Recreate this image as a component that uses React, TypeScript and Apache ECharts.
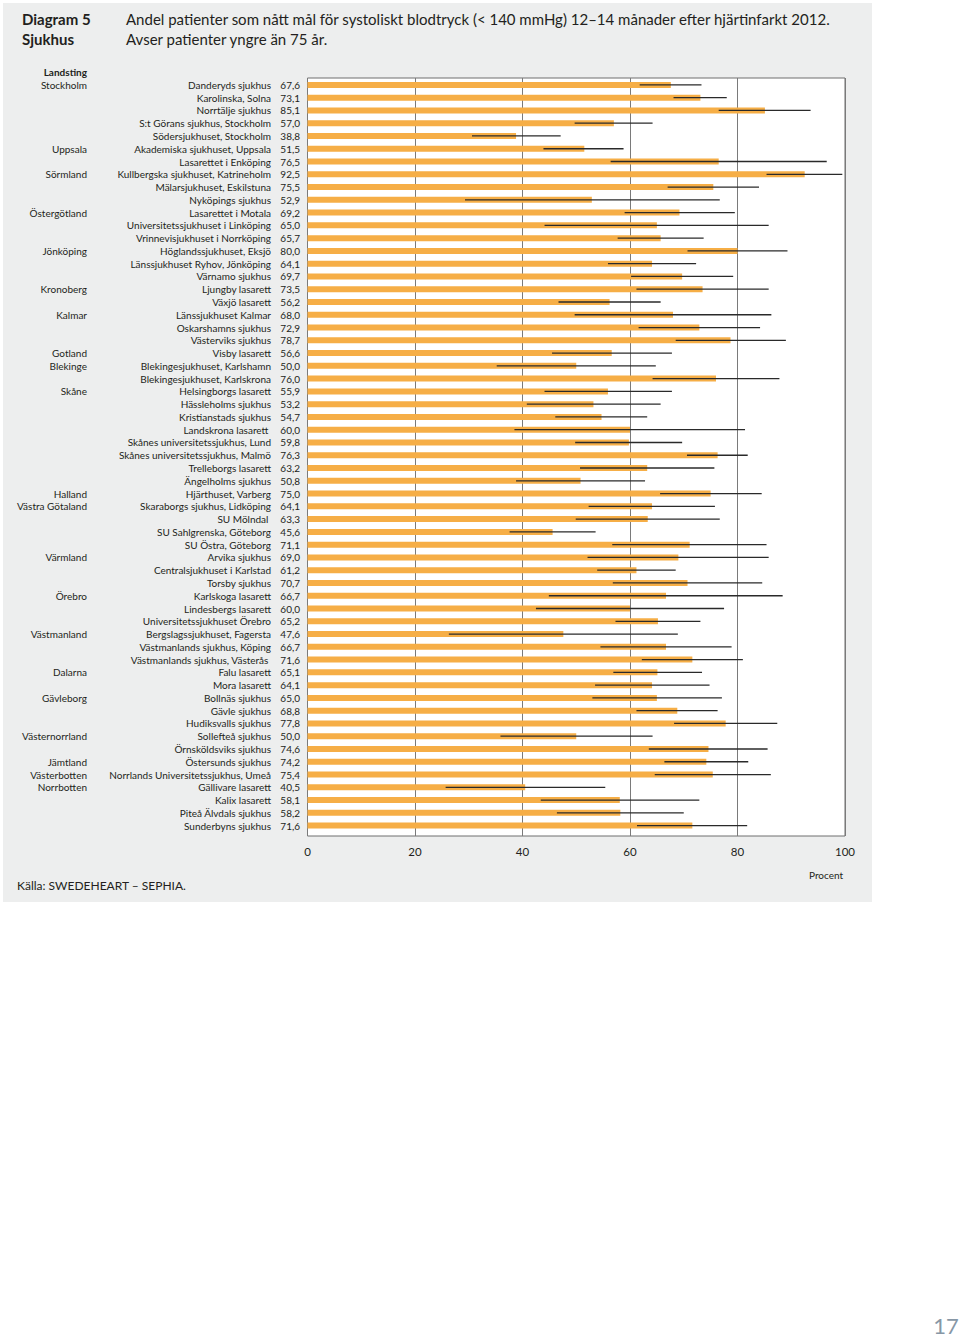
import React, { useEffect, useRef } from "react";
import * as echarts from "echarts";

const hospitals: string[] = [
  "Danderyds sjukhus", "Karolinska, Solna", "Norrtälje sjukhus", "S:t Görans sjukhus, Stockholm", "Södersjukhuset, Stockholm",
  "Akademiska sjukhuset, Uppsala", "Lasarettet i Enköping", "Kullbergska sjukhuset, Katrineholm", "Mälarsjukhuset, Eskilstuna", "Nyköpings sjukhus",
  "Lasarettet i Motala", "Universitetssjukhuset i Linköping", "Vrinnevisjukhuset i Norrköping", "Höglandssjukhuset, Eksjö", "Länssjukhuset Ryhov, Jönköping",
  "Värnamo sjukhus", "Ljungby lasarett", "Växjö lasarett", "Länssjukhuset Kalmar", "Oskarshamns sjukhus",
  "Västerviks sjukhus", "Visby lasarett", "Blekingesjukhuset, Karlshamn", "Blekingesjukhuset, Karlskrona", "Helsingborgs lasarett",
  "Hässleholms sjukhus", "Kristianstads sjukhus", "Landskrona lasarett\u00a0", "Skånes universitetssjukhus, Lund", "Skånes universitetssjukhus, Malmö",
  "Trelleborgs lasarett", "Ängelholms sjukhus", "Hjärthuset, Varberg", "Skaraborgs sjukhus, Lidköping", "SU Mölndal\u00a0",
  "SU Sahlgrenska, Göteborg", "SU Östra, Göteborg", "Arvika sjukhus", "Centralsjukhuset i Karlstad", "Torsby sjukhus",
  "Karlskoga lasarett", "Lindesbergs lasarett", "Universitetssjukhuset Örebro", "Bergslagssjukhuset, Fagersta", "Västmanlands sjukhus, Köping",
  "Västmanlands sjukhus, Västerås\u00a0", "Falu lasarett", "Mora lasarett", "Bollnäs sjukhus", "Gävle sjukhus",
  "Hudiksvalls sjukhus", "Sollefteå sjukhus", "Örnsköldsviks sjukhus", "Östersunds sjukhus", "Norrlands Universitetssjukhus, Umeå",
  "Gällivare lasarett", "Kalix lasarett", "Piteå Älvdals sjukhus", "Sunderbyns sjukhus",
];

const counties: string[] = [
  "Stockholm", "", "", "", "",
  "Uppsala", "", "Sörmland", "", "",
  "Östergötland", "", "", "Jönköping", "",
  "", "Kronoberg", "", "Kalmar", "",
  "", "Gotland", "Blekinge", "", "Skåne",
  "", "", "", "", "",
  "", "", "Halland", "Västra Götaland", "",
  "", "", "Värmland", "", "",
  "Örebro", "", "", "Västmanland", "",
  "", "Dalarna", "", "Gävleborg", "",
  "", "Västernorrland", "", "Jämtland", "Västerbotten",
  "Norrbotten", "", "", "",
];

const values: number[] = [
  67.6, 73.1, 85.1, 57.0, 38.8,
  51.5, 76.5, 92.5, 75.5, 52.9,
  69.2, 65.0, 65.7, 80.0, 64.1,
  69.7, 73.5, 56.2, 68.0, 72.9,
  78.7, 56.6, 50.0, 76.0, 55.9,
  53.2, 54.7, 60.0, 59.8, 76.3,
  63.2, 50.8, 75.0, 64.1, 63.3,
  45.6, 71.1, 69.0, 61.2, 70.7,
  66.7, 60.0, 65.2, 47.6, 66.7,
  71.6, 65.1, 64.1, 65.0, 68.8,
  77.8, 50.0, 74.6, 74.2, 75.4,
  40.5, 58.1, 58.2, 71.6,
];

const lower: number[] = [
  61.8, 68.1, 76.5, 49.7, 30.6,
  43.9, 56.4, 85.4, 67.0, 29.3,
  59.0, 44.1, 57.7, 70.7, 55.9,
  60.2, 61.2, 46.7, 49.7, 61.6,
  68.5, 45.5, 35.2, 64.2, 44.1,
  40.8, 46.1, 38.5, 49.8, 70.6,
  50.7, 38.8, 65.6, 52.3, 49.9,
  37.6, 56.7, 52.1, 53.9, 56.8,
  44.9, 42.5, 57.3, 26.3, 54.5,
  62.2, 56.9, 53.5, 53.0, 61.2,
  68.2, 35.9, 63.5, 66.4, 64.6,
  25.7, 43.4, 46.4, 61.3,
];

const upper: number[] = [
  73.3, 78.0, 93.6, 64.2, 47.1,
  58.8, 96.6, 99.5, 84.0, 76.7,
  79.5, 85.8, 73.7, 89.3, 72.3,
  79.2, 85.8, 65.7, 86.3, 84.2,
  89.0, 67.8, 64.8, 87.8, 67.8,
  65.7, 63.2, 81.4, 69.7, 81.9,
  75.7, 62.8, 84.5, 75.8, 76.7,
  53.6, 85.4, 85.8, 68.5, 84.6,
  88.4, 77.5, 73.1, 68.9, 78.9,
  81.0, 73.4, 74.8, 77.1, 76.3,
  87.4, 64.2, 85.6, 82.0, 86.2,
  55.4, 72.9, 70.0, 81.8,
];

const xTicks: number[] = [0, 20, 40, 60, 80, 100];

const FONT = "Lato";
const TEXT = "#231f20";

export default function App() {
  const ref = useRef<HTMLDivElement>(null);

  useEffect(() => {
    if (!ref.current) return;
    const chart = echarts.init(ref.current, undefined, { renderer: "svg" });
    const idx = hospitals.map((_, i) => i);
    const fmt = (v: number) => v.toFixed(1).replace(".", ",");

    const commonY = {
      type: "category" as const,
      inverse: true,
      position: "left" as const,
      axisLine: { show: false },
      axisTick: { show: false },
      splitLine: { show: false },
      gridIndex: 0,
    };
    const yLabel = { color: TEXT, fontSize: 10, fontFamily: FONT, margin: 7.5, align: "right" as const, interval: 0 };

    chart.setOption({
      animation: false,
      backgroundColor: "#ffffff",
      textStyle: { fontFamily: FONT },
      graphic: [
        { type: "rect", z: -10, shape: { x: 3, y: 3, width: 869, height: 899 }, style: { fill: "#edeeee" } },
        { type: "text", left: 22, top: 11, style: { text: "Diagram 5", font: `bold 15px ${FONT}`, fill: TEXT } },
        { type: "text", left: 22, top: 31, style: { text: "Sjukhus", font: `bold 15px ${FONT}`, fill: TEXT } },
        { type: "text", left: 126, top: 11, style: { text: "Andel patienter som nått mål för systoliskt blodtryck (< 140 mmHg) 12–14 månader efter hjärtinfarkt 2012.", font: `15px ${FONT}`, fill: TEXT } },
        { type: "text", left: 126, top: 31, style: { text: "Avser patienter yngre än 75 år.", font: `15px ${FONT}`, fill: TEXT } },
        { type: "text", x: 87, y: 72, style: { text: "Landsting", font: `bold 10px ${FONT}`, fill: TEXT, align: "right", verticalAlign: "middle" } },
        { type: "text", x: 826, y: 875, style: { text: "Procent", font: `10px ${FONT}`, fill: TEXT, align: "center", verticalAlign: "middle" } },
        { type: "text", x: 17, y: 885, style: { text: "Källa: SWEDEHEART – SEPHIA.", font: `12px ${FONT}`, fill: TEXT, verticalAlign: "middle" } },
        { type: "text", x: 946, y: 1325, style: { text: "17", font: `22px ${FONT}`, fill: "#8797a6", align: "center", verticalAlign: "middle" } },
      ],
      grid: [
        {
          left: 307.5,
          top: 78.5,
          width: 537.5,
          height: 753.5,
          show: false,
          containLabel: false,
        },
        {
          left: 307.5,
          top: 78,
          width: 537.5,
          height: 758,
          show: true,
          backgroundColor: "#ffffff",
          borderColor: "#6f6f6f",
          borderWidth: 1,
          containLabel: false,
          z: 0,
        },
      ],
      xAxis: [
        {
          type: "value",
          gridIndex: 0,
          min: xTicks[0],
          max: xTicks[xTicks.length - 1],
          interval: 20,
          show: false,
          splitLine: { show: false },
        },
        {
          type: "value",
          gridIndex: 1,
          min: xTicks[0],
          max: xTicks[xTicks.length - 1],
          interval: 20,
          axisLine: { show: false },
          axisTick: { show: false },
          splitLine: { show: true, lineStyle: { color: "#7a7a7a", width: 1 } },
          axisLabel: { color: TEXT, fontSize: 11.5, fontFamily: FONT, margin: 9 },
          z: 0,
        },
      ],
      yAxis: [
        { ...commonY, data: idx.map((i) => fmt(values[i])), axisLabel: yLabel },
        { ...commonY, offset: 29, data: hospitals, axisLabel: yLabel },
        { ...commonY, offset: 213, data: counties, axisLabel: yLabel },
        { type: "value", gridIndex: 1, show: false, splitLine: { show: false }, min: 0, max: 1 },
      ],
      series: [
        {
          type: "bar",
          xAxisIndex: 0,
          yAxisIndex: 0,
          data: values,
          barWidth: 6,
          itemStyle: { color: "#f6ae46" },
          silent: true,
          z: 2,
        },
        {
          type: "custom",
          xAxisIndex: 0,
          yAxisIndex: 0,
          data: idx.map((i) => [lower[i], upper[i], i]),
          encode: { x: [0, 1], y: 2 },
          renderItem: (_params: any, api: any) => {
            const a = api.coord([api.value(0), api.value(2)]);
            const b = api.coord([api.value(1), api.value(2)]);
            return {
              type: "line",
              shape: { x1: a[0], y1: a[1], x2: b[0], y2: b[1] },
              style: { stroke: "#2a2a2a", lineWidth: 1.3 },
            };
          },
          silent: true,
          z: 3,
        },
      ],
    });
    return () => chart.dispose();
  }, []);

  return (
    <div
      ref={ref}
      style={{ position: "absolute", left: 0, top: 0, width: 960, height: 1338 }}
    />
  );
}
